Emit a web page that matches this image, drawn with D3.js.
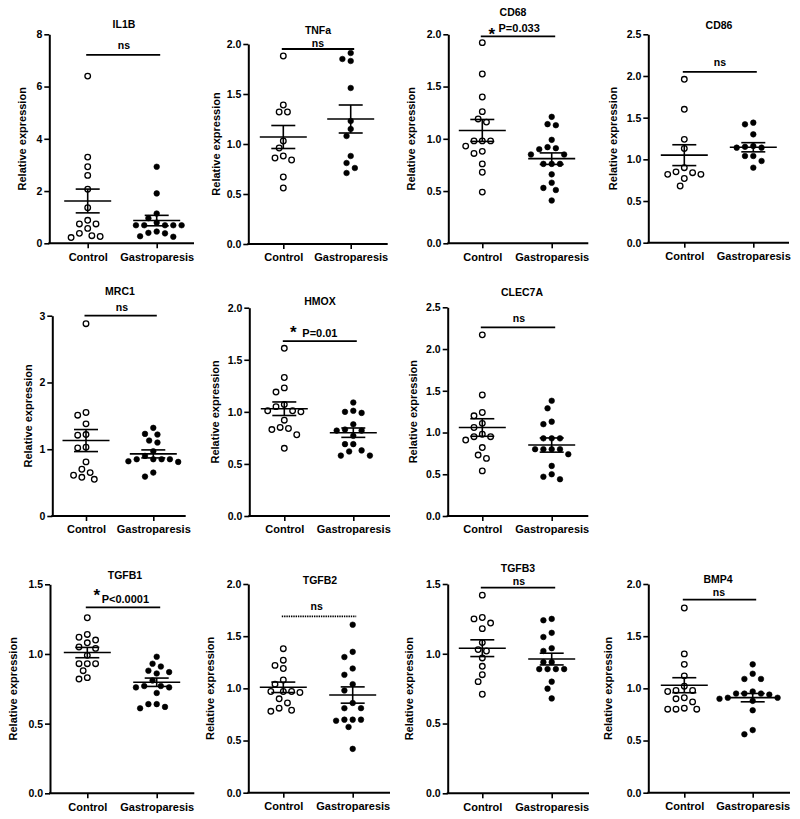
<!DOCTYPE html>
<html><head><meta charset="utf-8">
<script src="https://cdn.jsdelivr.net/npm/d3@7"></script>
<style>
body{margin:0;background:#fff}
text{font-family:"Liberation Sans",Arial,Helvetica,sans-serif;font-weight:bold;fill:#000}
</style>
</head><body>
<svg id="chart" width="800" height="819"></svg>
<script>
// ---------------- DATA ----------------
const genes = ["IL1B","TNFa","CD68","CD86","MRC1","HMOX","CLEC7A","TGFB1","TGFB2","TGFB3","BMP4"];
const categories = ["Control","Gastroparesis"];

const controlValues = [
  [6.40,3.30,2.93,2.60,2.07,1.36,0.88,0.74,0.57,0.74,0.29,0.22,0.26,0.38],
  [1.88,1.39,1.32,1.32,1.03,0.96,0.88,0.84,0.86,0.67,0.56],
  [1.92,1.62,1.40,1.26,1.16,1.19,0.98,0.98,0.98,0.93,0.86,0.88,0.76,0.68,0.49],
  [1.96,1.60,1.24,1.13,0.85,0.82,0.82,0.84,0.90,0.77,0.68],
  [2.88,1.55,1.51,1.38,1.22,1.21,1.02,1.03,0.81,0.70,0.61,0.55,0.58,0.65],
  [1.61,1.33,1.23,1.19,1.07,1.05,1.01,1.00,1.01,0.92,0.85,0.83,0.84,0.78,0.65],
  [2.17,1.45,1.24,1.20,1.11,1.06,0.95,0.95,0.98,0.91,0.82,0.73,0.69,0.54],
  [1.26,1.14,1.10,1.08,1.12,1.05,1.04,0.99,0.93,0.93,0.93,0.88,0.82,0.83],
  [1.38,1.27,1.22,1.19,1.08,1.04,0.97,0.97,0.97,0.96,0.90,0.86,0.81,0.78,0.79],
  [1.42,1.26,1.25,1.22,1.18,1.08,1.03,1.02,0.97,0.91,0.85,0.80,0.71],
  [1.77,1.33,1.23,1.12,1.02,0.98,0.98,0.97,0.91,0.90,0.87,0.80,0.80,0.80,0.81]
];
const gastroValues = [
  [2.93,1.91,1.14,0.96,0.79,0.69,0.69,0.69,0.69,0.69,0.38,0.25,0.40,0.27,0.45],
  [1.85,1.83,1.91,1.56,1.23,1.15,1.08,0.88,0.81,0.76,0.71],
  [1.21,1.13,1.14,0.99,0.91,0.90,0.92,0.85,0.85,0.76,0.76,0.76,0.66,0.58,0.53,0.51,0.41],
  [1.42,1.44,1.30,1.14,1.16,1.14,1.15,1.04,1.04,0.98,0.90],
  [1.32,1.23,1.22,1.13,1.10,0.97,0.90,0.85,0.85,0.85,0.85,0.81,0.82,0.59,0.65],
  [1.09,1.01,0.99,1.00,0.88,0.83,0.82,0.82,0.77,0.69,0.69,0.62,0.63,0.58,0.58],
  [1.38,1.29,1.13,1.10,0.93,0.93,0.93,0.80,0.80,0.80,0.80,0.74,0.60,0.50,0.47,0.44],
  [0.98,0.93,0.91,0.88,0.87,0.86,0.81,0.76,0.76,0.77,0.77,0.72,0.64,0.64,0.62,0.61],
  [1.61,1.35,1.30,1.19,1.13,1.04,0.98,0.86,0.81,0.81,0.70,0.69,0.70,0.70,0.63,0.42],
  [1.24,1.25,1.15,1.12,1.04,1.02,0.94,0.94,0.89,0.89,0.89,0.89,0.80,0.75,0.68],
  [1.23,1.14,1.09,1.09,0.95,0.97,0.95,0.91,0.91,0.90,0.94,0.95,0.88,0.79,0.60,0.56]
];
const controlMean = [1.62,1.07,1.08,1.05,1.13,1.03,1.06,1.01,1.01,1.04,1.03];
const controlSem  = [0.455,0.115,0.105,0.125,0.165,0.065,0.105,0.037,0.05,0.06,0.072];
const gastroMean  = [0.87,1.25,0.81,1.145,0.93,0.80,0.85,0.797,0.936,0.962,0.911];
const gastroSem   = [0.20,0.14,0.055,0.055,0.06,0.045,0.085,0.03,0.078,0.042,0.04];

const yTicks = [
  [0,2,4,6,8],[0,0.5,1,1.5,2],[0,0.5,1,1.5,2],[0,0.5,1,1.5,2,2.5],
  [0,1,2,3],[0,0.5,1,1.5,2],[0,0.5,1,1.5,2,2.5],
  [0,0.5,1,1.5],[0,0.5,1,1.5,2],[0,0.5,1,1.5],[0,0.5,1,1.5,2]
];
const yTickFormats = ["d",".1f",".1f",".1f","d",".1f",".1f",".1f",".1f",".1f",".1f"];
const sigLabels = ["ns","ns","P=0.033","ns","ns","P=0.01","ns","P<0.0001","ns","ns","ns"];
const sigStars  = [false,false,true,false,false,true,false,true,false,false,false];
const sigLevels = [7.21,1.95,1.98,2.05,3.0,1.68,2.26,1.335,1.69,1.474,1.85];
const yLabel = "Relative expression";

// ---------------- LAYOUT (pixels) ----------------
const layout = [
  {ax:49.3, top:34.3, bot:243.3, right:194,   c:87.7,  g:156.7, tx:124, ty:24,   lo:27, lx:124,  ly:46},
  {ax:248.3,top:44,   bot:244,   right:387.7, c:283.3, g:350.7, tx:318, ty:29.5, lo:32, lx:318,  ly:43.5},
  {ax:448.3,top:34.3, bot:243.3, right:588.3, c:482.3, g:551.7, tx:513, ty:12.3, lo:37, lx:498.5,ly:28.3, sx:491.7, sy:30},
  {ax:648.3,top:34.3, bot:242.7, right:789,   c:684.3, g:753.3, tx:719, ty:25,   lo:35, lx:720,  ly:63.3},
  {ax:52.3, top:315.7,bot:516,   right:185.7, c:86,    g:153.3, tx:120, ty:291,  lo:24, lx:122,  ly:308.3},
  {ax:249.3,top:307.7,bot:516,   right:390,   c:284.3, g:353.3, tx:320, ty:300.7,lo:34, lx:302.3,ly:333,  sx:293.3, sy:328},
  {ax:447.7,top:307.3,bot:516,   right:588.3, c:482.3, g:551.7, tx:522, ty:292,  lo:35, lx:519,  ly:319},
  {ax:50,   top:584.3,bot:793.3, right:194.3, c:87.3,  g:156.7, tx:125, ty:575,  lo:37, lx:101.7,ly:599,  sx:96.7, sy:591},
  {ax:248.3,top:584,  bot:792.7, right:390,   c:283.3, g:352.7, tx:320, ty:580,  lo:38, lx:316.7,ly:606.7, dotted:true},
  {ax:447.7,top:584,  bot:793.3, right:589,   c:482.3, g:551.7, tx:518, ty:568,  lo:39, lx:519,  ly:581.8},
  {ax:648.3,top:584,  bot:792.7, right:790,   c:684.3, g:752.7, tx:718, ty:579,  lo:40, lx:719,  ly:592.5}
];

const R = 2.8, MIN_DIST = 7.8, STEP = 4.15;
const svg = d3.select("#chart");

function swarm(values, y, cx) {
  const pts = values.map(v => ({v, y: y(v)})).sort((a,b) => b.v - a.v);
  const placed = [];
  pts.forEach(p => {
    for (let k = 0; k < 60; k++) {
      const off = k === 0 ? 0 : (k % 2 ? -1 : 1) * Math.ceil(k/2) * STEP;
      const x = cx + off;
      if (placed.every(q => Math.hypot(q.x - x, q.y - p.y) >= MIN_DIST)) {
        p.x = x; placed.push(p); break;
      }
    }
  });
  return placed;
}

genes.forEach((gene, i) => {
  const L = layout[i];
  const ticks = yTicks[i];
  const y = d3.scaleLinear().domain([0, ticks[ticks.length-1]]).range([L.bot, L.top]);
  const x = d3.scalePoint().domain(categories).range([L.c, L.g]);
  const gP = svg.append("g");

  // y axis
  const yAxis = gP.append("g").attr("transform", `translate(${L.ax},0)`)
    .call(d3.axisLeft(y).tickValues(ticks).tickFormat(d3.format(yTickFormats[i]))
      .tickSize(5).tickSizeOuter(0).tickPadding(2));
  yAxis.select(".domain").attr("stroke","#000").attr("stroke-width",2);
  yAxis.selectAll(".tick line").attr("stroke","#000").attr("stroke-width",1.6);
  yAxis.selectAll(".tick text").style("font-size","10.5px").attr("fill","#000");

  // x axis
  const xAxis = gP.append("g").attr("transform", `translate(0,${L.bot})`)
    .call(d3.axisBottom(x).tickSize(5).tickSizeOuter(0).tickPadding(4.5));
  xAxis.select(".domain").remove();
  xAxis.selectAll(".tick line").attr("stroke","#000").attr("stroke-width",1.6);
  xAxis.selectAll(".tick text").style("font-size","11px").attr("fill","#000");
  gP.append("line").attr("x1", L.ax - 1).attr("x2", L.right).attr("y1", L.bot).attr("y2", L.bot)
    .attr("stroke","#000").attr("stroke-width",2);

  // y label
  gP.append("text")
    .attr("transform", `translate(${L.ax - L.lo},${(L.top + L.bot)/2}) rotate(-90)`)
    .attr("text-anchor","middle").attr("dy","0.35em")
    .style("font-size","11px").text(yLabel);

  // title
  gP.append("text").attr("x", L.tx).attr("y", L.ty + 4).attr("text-anchor","middle")
    .style("font-size","10.5px").text(gene);

  // significance
  const sy = y(sigLevels[i]);
  gP.append("line").attr("x1", L.c - 1.5).attr("x2", L.g + 3.5).attr("y1", sy).attr("y2", sy)
    .attr("stroke","#000").attr("stroke-width",1.8)
    .attr("stroke-dasharray", L.dotted ? "1.4,0.9" : null);
  if (sigStars[i]) {
    gP.append("text").attr("x", L.sx).attr("y", L.sy + 0.57*17).attr("text-anchor","middle")
      .style("font-size","17px").text("*");
    gP.append("text").attr("x", L.lx).attr("y", L.ly + 4).attr("text-anchor","start")
      .style("font-size","11px").text(sigLabels[i]);
  } else {
    gP.append("text").attr("x", L.lx).attr("y", L.ly + 3).attr("text-anchor","middle")
      .style("font-size","10.5px").text(sigLabels[i]);
  }

  // groups
  const groups = [
    {vals: controlValues[i], mean: controlMean[i], sem: controlSem[i], cx: x(categories[0]), open: true},
    {vals: gastroValues[i],  mean: gastroMean[i],  sem: gastroSem[i],  cx: x(categories[1]), open: false}
  ];
  groups.forEach(G => {
    const pts = swarm(G.vals, y, G.cx);
    gP.append("g").selectAll("circle").data(pts).join("circle")
      .attr("cx", d => d.x).attr("cy", d => d.y).attr("r", R)
      .attr("fill", G.open ? "#fff" : "#000")
      .attr("stroke", "#000").attr("stroke-width", G.open ? 1.3 : 0.6);
    const gm = gP.append("g").attr("stroke","#000").attr("stroke-width",1.6);
    gm.append("line").attr("x1", G.cx - 23.5).attr("x2", G.cx + 23.5)
      .attr("y1", y(G.mean)).attr("y2", y(G.mean));
    gm.append("line").attr("x1", G.cx).attr("x2", G.cx)
      .attr("y1", y(G.mean + G.sem)).attr("y2", y(G.mean - G.sem));
    [G.mean + G.sem, G.mean - G.sem].forEach(v => {
      gm.append("line").attr("x1", G.cx - 12).attr("x2", G.cx + 12)
        .attr("y1", y(v)).attr("y2", y(v));
    });
  });
});
</script>
</body></html>
